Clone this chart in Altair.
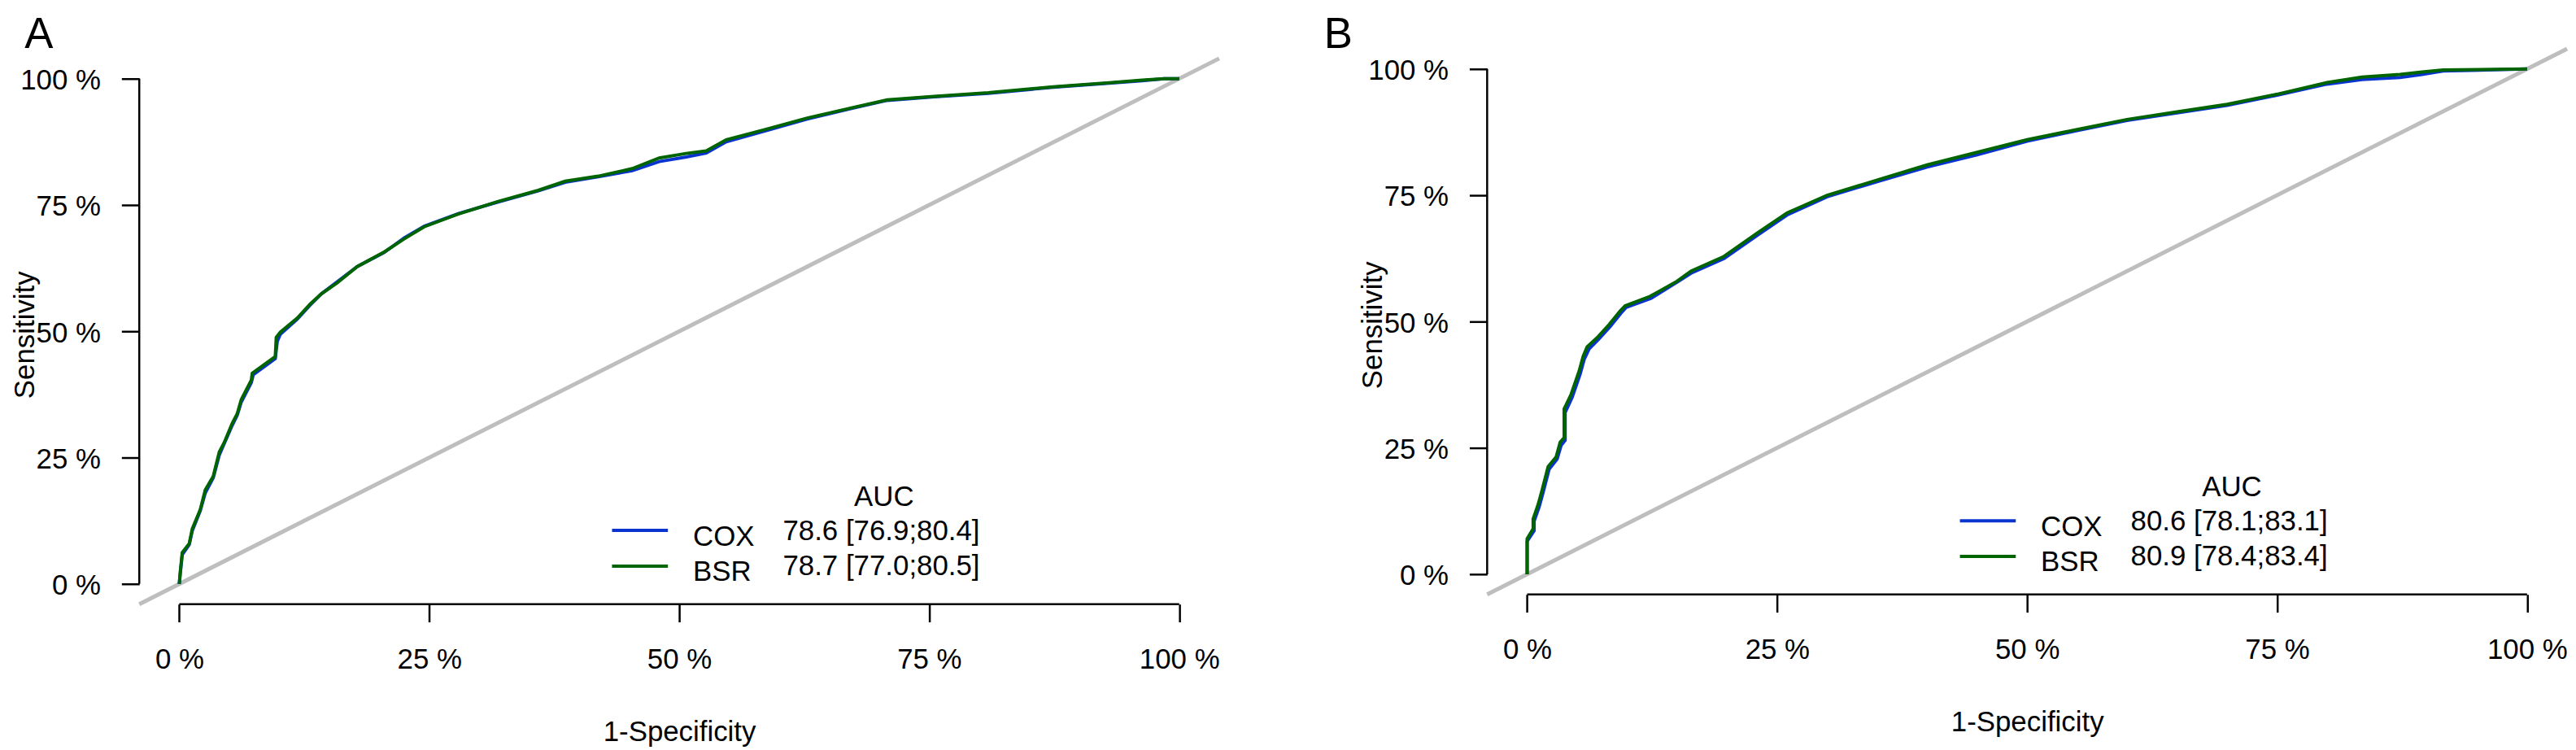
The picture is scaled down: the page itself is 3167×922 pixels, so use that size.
import altair as alt
import pandas as pd

FONT = "Liberation Sans"
TICKS = [0.0, 0.25, 0.5, 0.75, 1.0]
MODELS = ["COX", "BSR"]
COLORS = ["#0A34D0", "#006400"]
DIAG_COLOR = "#BEBEBE"
PANELS = ["A", "B"]

# ---- Panel A ----
A_BSR_FPR = [0.000, 0.001, 0.003, 0.010, 0.013, 0.021, 0.026, 0.034, 0.040, 0.045,
             0.053, 0.058, 0.062, 0.072, 0.073, 0.096, 0.097, 0.101, 0.118, 0.131,
             0.142, 0.158, 0.178, 0.205, 0.225, 0.245, 0.279, 0.319, 0.359, 0.386,
             0.419, 0.453, 0.480, 0.507, 0.527, 0.547, 0.587, 0.628, 0.674, 0.708,
             0.755, 0.809, 0.874, 0.930, 0.963, 0.985, 1.000]
A_BSR_TPR = [0.000, 0.024, 0.062, 0.080, 0.109, 0.147, 0.186, 0.213, 0.261, 0.280,
             0.318, 0.337, 0.365, 0.403, 0.417, 0.450, 0.488, 0.498, 0.526, 0.554,
             0.574, 0.596, 0.628, 0.657, 0.683, 0.707, 0.732, 0.757, 0.779, 0.797,
             0.807, 0.822, 0.843, 0.852, 0.857, 0.879, 0.900, 0.922, 0.943, 0.958,
             0.965, 0.972, 0.984, 0.992, 0.997, 1.000, 1.000]
A_COX_FPR = [0.000, 0.001, 0.003, 0.010, 0.013, 0.021, 0.026, 0.034, 0.040, 0.045,
             0.053, 0.058, 0.062, 0.072, 0.074, 0.096, 0.098, 0.101, 0.118, 0.131,
             0.142, 0.158, 0.178, 0.205, 0.225, 0.245, 0.279, 0.319, 0.359, 0.386,
             0.419, 0.453, 0.480, 0.507, 0.527, 0.547, 0.587, 0.628, 0.674, 0.708,
             0.755, 0.809, 0.874, 0.930, 0.963, 0.985, 1.000]
A_COX_TPR = [0.000, 0.020, 0.058, 0.078, 0.105, 0.145, 0.180, 0.210, 0.255, 0.278,
             0.314, 0.334, 0.360, 0.398, 0.414, 0.446, 0.480, 0.494, 0.524, 0.552,
             0.574, 0.598, 0.628, 0.656, 0.685, 0.708, 0.733, 0.756, 0.778, 0.795,
             0.806, 0.818, 0.836, 0.845, 0.853, 0.875, 0.897, 0.920, 0.942, 0.957,
             0.964, 0.971, 0.983, 0.991, 0.996, 1.000, 1.000]
A_AUC = ["78.6 [76.9;80.4]", "78.7 [77.0;80.5]"]

# ---- Panel B ----
B_BSR_FPR = [0.000, 0.000, 0.006, 0.006, 0.011, 0.015, 0.021, 0.029, 0.033, 0.037,
             0.037, 0.044, 0.052, 0.056, 0.060, 0.071, 0.082, 0.093, 0.098, 0.123,
             0.150, 0.164, 0.196, 0.230, 0.260, 0.300, 0.350, 0.400, 0.450, 0.500,
             0.550, 0.600, 0.650, 0.700, 0.750, 0.800, 0.835, 0.873, 0.895, 0.916,
             1.000]
B_BSR_TPR = [0.000, 0.070, 0.090, 0.109, 0.138, 0.167, 0.213, 0.232, 0.261, 0.270,
             0.327, 0.356, 0.402, 0.431, 0.450, 0.470, 0.494, 0.521, 0.531, 0.550,
             0.580, 0.600, 0.628, 0.675, 0.715, 0.750, 0.780, 0.810, 0.835, 0.860,
             0.880, 0.900, 0.915, 0.930, 0.950, 0.973, 0.984, 0.989, 0.994, 0.998,
             1.000]
B_COX_FPR = [0.000, 0.000, 0.007, 0.007, 0.012, 0.016, 0.022, 0.030, 0.034, 0.038,
             0.038, 0.045, 0.053, 0.057, 0.062, 0.072, 0.083, 0.094, 0.099, 0.124,
             0.150, 0.165, 0.197, 0.231, 0.260, 0.300, 0.350, 0.400, 0.450, 0.500,
             0.550, 0.600, 0.650, 0.700, 0.750, 0.800, 0.835, 0.873, 0.895, 0.916,
             1.000]
B_COX_TPR = [0.000, 0.065, 0.086, 0.105, 0.133, 0.162, 0.208, 0.228, 0.255, 0.265,
             0.320, 0.350, 0.396, 0.425, 0.446, 0.466, 0.490, 0.517, 0.528, 0.546,
             0.578, 0.597, 0.625, 0.672, 0.711, 0.747, 0.777, 0.806, 0.830, 0.857,
             0.878, 0.898, 0.913, 0.928, 0.948, 0.970, 0.979, 0.983, 0.989, 0.996,
             1.000]
B_AUC = ["80.6 [78.1;83.1]", "80.9 [78.4;83.4]"]

W, H = 1334, 674
PX_PER_UNIT = H / 1.08
FS = 35


def curve_df(fpr, tpr, model):
    return pd.DataFrame({"fpr": fpr, "tpr": tpr, "model": model, "i": list(range(len(fpr)))})


def make_panel(letter, cox, bsr, auc, letter_x, top_extra):
    # top_extra: empty pixels above the data region (to mimic the original offset)
    h = H + top_extra
    ymax = 1.04 + top_extra / PX_PER_UNIT
    xs = alt.Scale(domain=[-0.04, 1.04], nice=False, zero=False)
    ys = alt.Scale(domain=[-0.04, ymax], nice=False, zero=False)
    xaxis = alt.Axis(values=TICKS, labelExpr="round(datum.value*100) + ' %'",
                     domain=False, grid=False, tickSize=22, tickWidth=2.5,
                     tickColor="black", labelFontSize=FS, labelFont=FONT,
                     labelColor="black", labelPadding=57, labelBaseline="alphabetic",
                     labelFlush=False, labelOverlap=False, labelBound=False,
                     titleFontSize=FS, titleFont=FONT, titleFontWeight="normal",
                     titleColor="black", titleX=W / 2, titleY=169,
                     titleAlign="center", titleBaseline="alphabetic")
    yaxis = alt.Axis(values=TICKS, labelExpr="round(datum.value*100) + ' %'",
                     domain=False, grid=False, tickSize=22, tickWidth=2.5,
                     tickColor="black", labelFontSize=FS, labelFont=FONT,
                     labelColor="black", labelPadding=26, labelBaseline="alphabetic",
                     labelOffset=13, labelFlush=False, labelOverlap=False,
                     labelBound=False,
                     titleFontSize=FS, titleFont=FONT, titleFontWeight="normal",
                     titleColor="black", titleX=-130.6, titleY=341 + top_extra,
                     titleAngle=270, titleAlign="center", titleBaseline="alphabetic")
    x = alt.X("fpr:Q", scale=xs, axis=xaxis, title="1-Specificity")
    y = alt.Y("tpr:Q", scale=ys, axis=yaxis, title="Sensitivity")

    one = pd.DataFrame({"k": [0]})
    diag = alt.Chart(one).mark_rule(color=DIAG_COLOR, strokeWidth=5).encode(
        x=alt.value(0), y=alt.value(h), x2=alt.value(W), y2=alt.value(top_extra))
    lines = []
    for (fpr, tpr), m, c in zip([cox, bsr], MODELS, COLORS):
        lines.append(alt.Chart(curve_df(fpr, tpr, m)).mark_line(
            color=c, strokeWidth=4, strokeJoin="miter").encode(
            x=x, y=y, order="i:Q"))
    axis_df = pd.DataFrame({"lo": [TICKS[0]], "hi": [TICKS[-1]]})
    xrule = alt.Chart(axis_df).mark_rule(color="black", strokeWidth=2.5).encode(
        x=alt.X("lo:Q", scale=xs, axis=xaxis, title="1-Specificity"), x2="hi:Q",
        y=alt.value(h))
    yrule = alt.Chart(axis_df).mark_rule(color="black", strokeWidth=2.5).encode(
        y=alt.Y("lo:Q", scale=ys, axis=yaxis, title="Sensitivity"), y2="hi:Q",
        x=alt.value(0))

    let = alt.Chart(pd.DataFrame({"t": [letter]})).mark_text(
        align="left", baseline="alphabetic", fontSize=53, font=FONT, color="black"
    ).encode(x=alt.value(letter_x), y=alt.value(-1), text="t:N")

    legend = [alt.Chart(pd.DataFrame({"t": ["AUC"]})).mark_text(
        align="center", baseline="alphabetic", fontSize=FS, font=FONT, color="black"
    ).encode(x=alt.value(920), y=alt.value(553 + top_extra), text="t:N")]
    row_line_y = [583, 627]
    row_name_y = [602, 645]
    row_val_y = [595, 638]
    for k in range(2):
        legend.append(alt.Chart(one).mark_rule(color=COLORS[k], strokeWidth=4).encode(
            x=alt.value(584), x2=alt.value(653), y=alt.value(row_line_y[k] + top_extra)))
        legend.append(alt.Chart(pd.DataFrame({"t": [MODELS[k]]})).mark_text(
            align="left", baseline="alphabetic", fontSize=FS, font=FONT, color="black"
        ).encode(x=alt.value(684), y=alt.value(row_name_y[k] + top_extra), text="t:N"))
        legend.append(alt.Chart(pd.DataFrame({"t": [auc[k]]})).mark_text(
            align="left", baseline="alphabetic", fontSize=FS, font=FONT, color="black"
        ).encode(x=alt.value(795), y=alt.value(row_val_y[k] + top_extra), text="t:N"))

    return alt.layer(diag, *lines, xrule, yrule, let, *legend).properties(width=W, height=h)


panel_a = make_panel(PANELS[0], (A_COX_FPR, A_COX_TPR), (A_BSR_FPR, A_BSR_TPR), A_AUC, -141.6, 12)
panel_b = make_panel(PANELS[1], (B_COX_FPR, B_COX_TPR), (B_BSR_FPR, B_BSR_TPR), B_AUC, -201.6, 0)

chart = alt.hconcat(panel_a, panel_b, spacing=126).configure_view(stroke=None).properties(
    padding={"left": 5, "top": 7, "right": 0, "bottom": 0},
    background="white")

chart.save("out.html", embed_options={"renderer": "svg", "actions": False})
